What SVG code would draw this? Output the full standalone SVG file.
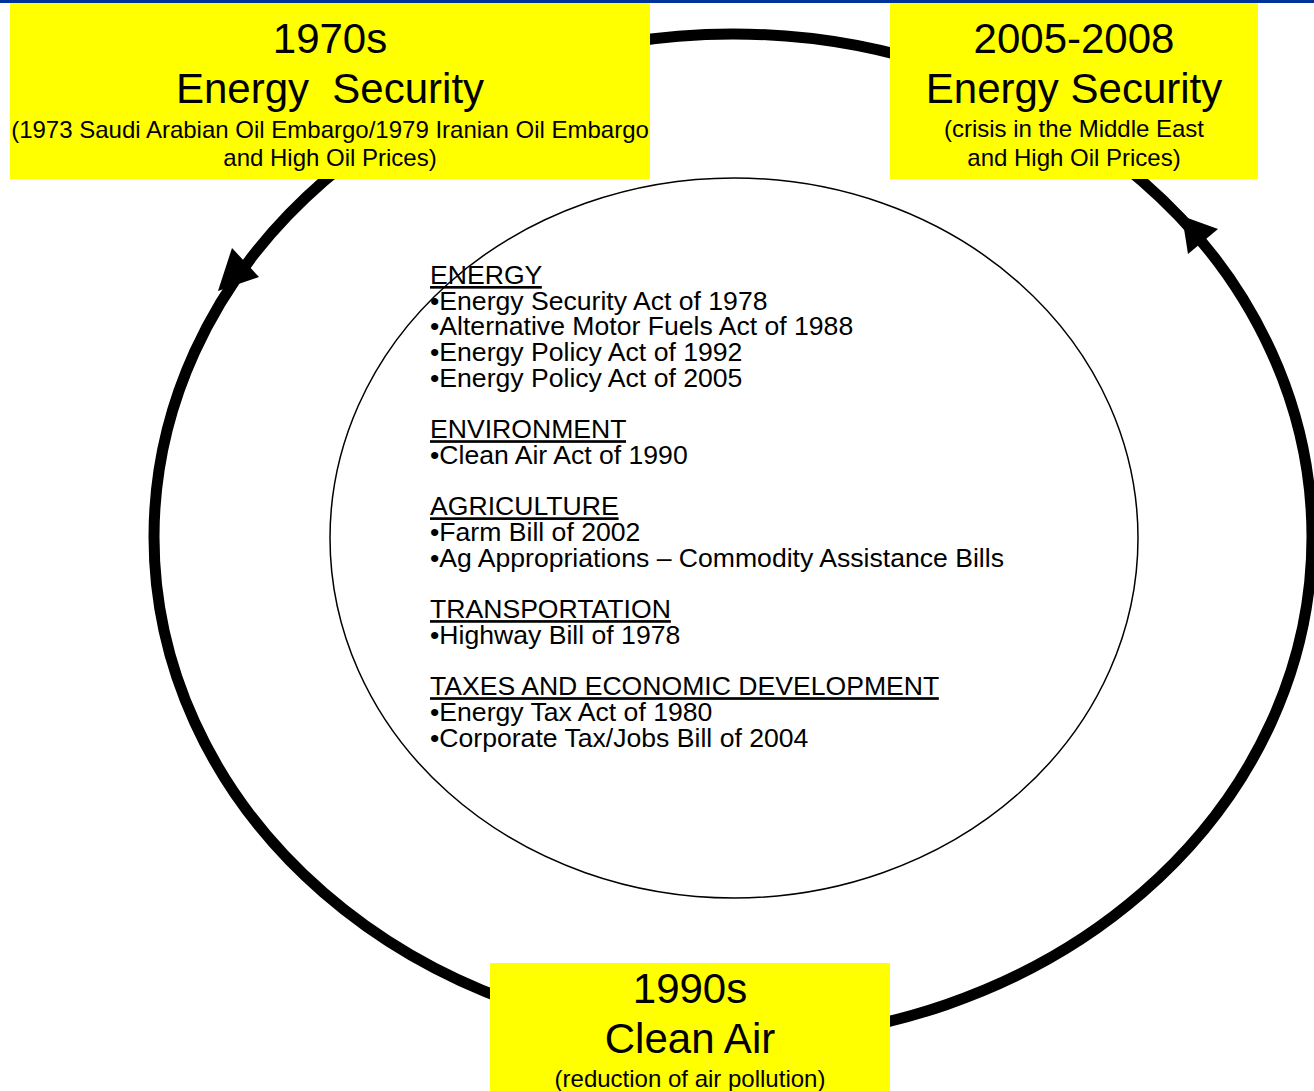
<svg xmlns="http://www.w3.org/2000/svg" width="1314" height="1091" viewBox="0 0 1314 1091">
<style>
text{font-family:"Liberation Sans",Arial,sans-serif;fill:#000}
.box{fill:#ffff00}
.t1{font-size:42px;text-anchor:middle;white-space:pre}
.t2{font-size:24px;text-anchor:middle}
.body{font-size:26.6px}
.hd{text-decoration:underline}
.cyc{fill:none;stroke:#000;stroke-width:11}
</style>
<rect x="0" y="0" width="1314" height="1091" fill="#fff"/>
<rect x="0" y="0" width="1314" height="3" fill="#003399"/>
<g id="connectors">
<ellipse class="cyc" cx="733" cy="537" rx="579" ry="503"/>
<polygon points="218,291 232,248 259,277" fill="#000"/>
<polygon points="1182,216 1188,254 1218,229" fill="#000"/>
</g>
<g id="policies">
<ellipse cx="734" cy="538" rx="404" ry="360" fill="none" stroke="#000" stroke-width="1.5"/>
<text class="body" x="430">
<tspan class="hd" x="430" y="284">ENERGY</tspan>
<tspan x="430" y="309.7">•Energy Security Act of 1978</tspan>
<tspan x="430" y="335.4">•Alternative Motor Fuels Act of 1988</tspan>
<tspan x="430" y="361.1">•Energy Policy Act of 1992</tspan>
<tspan x="430" y="386.8">•Energy Policy Act of 2005</tspan>
<tspan class="hd" x="430" y="438.2">ENVIRONMENT</tspan>
<tspan x="430" y="463.9">•Clean Air Act of 1990</tspan>
<tspan class="hd" x="430" y="515.3">AGRICULTURE</tspan>
<tspan x="430" y="541">•Farm Bill of 2002</tspan>
<tspan x="430" y="566.7">•Ag Appropriations – Commodity Assistance Bills</tspan>
<tspan class="hd" x="430" y="618.1">TRANSPORTATION</tspan>
<tspan x="430" y="643.8">•Highway Bill of 1978</tspan>
<tspan class="hd" x="430" y="695.2">TAXES AND ECONOMIC DEVELOPMENT</tspan>
<tspan x="430" y="720.9">•Energy Tax Act of 1980</tspan>
<tspan x="430" y="746.6">•Corporate Tax/Jobs Bill of 2004</tspan>
</text>
</g>
<g id="node-1970s">
<rect class="box" x="10" y="3" width="640" height="176"/>
<text class="t1" x="330" y="53">1970s</text>
<text class="t1" x="330" y="103">Energy  Security</text>
<text class="t2" x="330" y="137.5">(1973 Saudi Arabian Oil Embargo/1979 Iranian Oil Embargo</text>
<text class="t2" x="330" y="166">and High Oil Prices)</text>
</g>
<g id="node-2005-2008">
<rect class="box" x="890" y="3" width="368" height="176"/>
<text class="t1" x="1074" y="53">2005-2008</text>
<text class="t1" x="1074" y="103">Energy Security</text>
<text class="t2" x="1074" y="137">(crisis in the Middle East</text>
<text class="t2" x="1074" y="166">and High Oil Prices)</text>
</g>
<g id="node-1990s">
<rect class="box" x="490" y="963" width="400" height="128"/>
<text class="t1" x="690" y="1003">1990s</text>
<text class="t1" x="690" y="1053">Clean Air</text>
<text class="t2" x="690" y="1087">(reduction of air pollution)</text>
</g>
</svg>
